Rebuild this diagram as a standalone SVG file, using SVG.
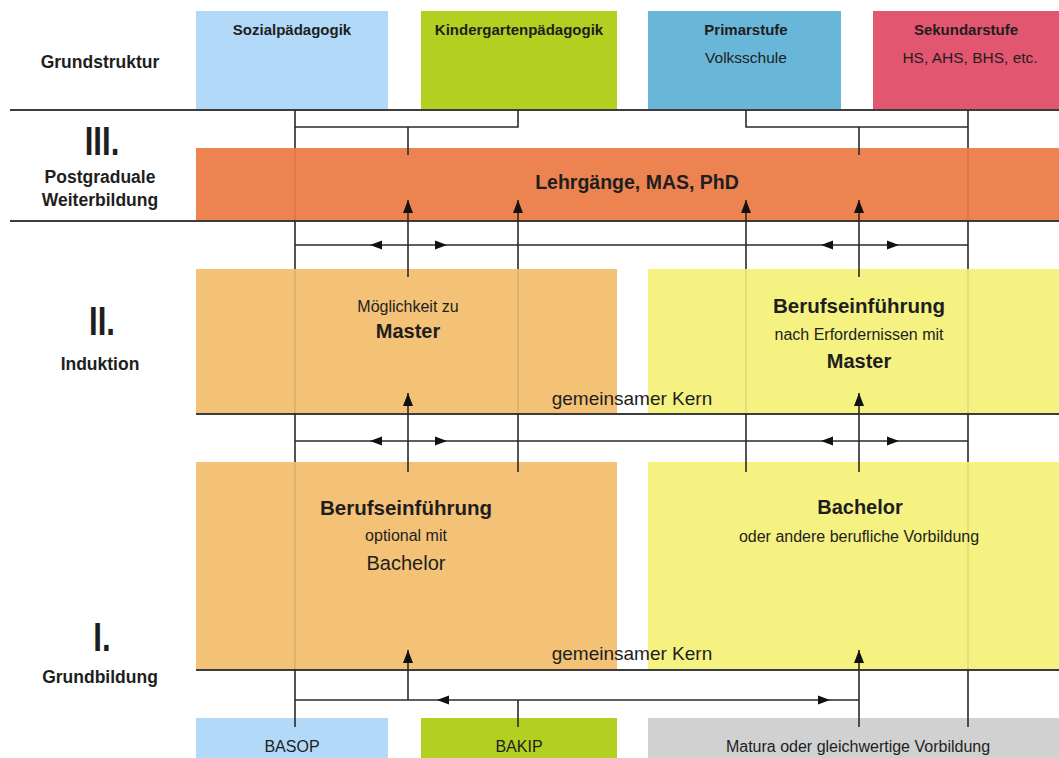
<svg xmlns="http://www.w3.org/2000/svg" width="1059" height="758" viewBox="0 0 1059 758">
  <style>
    text { font-family: "Liberation Sans", Arial, sans-serif; fill: #1e1e1e; text-anchor: middle; }
    .b { font-weight: bold; }
    .hd { font-size: 15px; font-weight: bold; }
    .sub { font-size: 15.5px; }
    .lbl { font-size: 17.5px; font-weight: bold; }
    .num { font-size: 40px; font-weight: bold; }
    .big { font-size: 20.5px; font-weight: bold; }
    .mid { font-size: 16px; }
    .core { font-size: 19px; }
    .rule { stroke: #3c3c3c; stroke-width: 2; fill: none; }
    .ln { stroke: #2a2a2a; stroke-width: 1.6; fill: none; }
    .faint { stroke: #000; stroke-opacity: 0.13; stroke-width: 1.2; fill: none; }
    .up { marker-end: url(#arr); }
  </style>
  <defs>
    <marker id="arr" markerUnits="userSpaceOnUse" markerWidth="14" markerHeight="10" refX="13" refY="5" orient="auto">
      <path d="M0,0 L13,5 L0,10 Z" fill="#111"/>
    </marker>
    <!-- arrowhead on a running line, tip at origin, pointing right -->
    <path id="head" d="M0,0 L-12,-4.5 L-12,4.5 Z" fill="#111"/>
  </defs>

  <rect width="1059" height="758" fill="#ffffff"/>

  <!-- header: school levels -->
  <g id="sozialpaedagogik">
    <rect x="196" y="11" width="192" height="99" fill="#b3d9f9"/>
    <text class="hd" x="292" y="35">Sozialpädagogik</text>
  </g>
  <g id="kindergartenpaedagogik">
    <rect x="421" y="11" width="196" height="99" fill="#b3d021"/>
    <text class="hd" x="519" y="35">Kindergartenpädagogik</text>
  </g>
  <g id="primarstufe">
    <rect x="648" y="11" width="193" height="99" fill="#68b6d8"/>
    <text class="hd" x="746" y="35">Primarstufe</text>
    <text class="sub" x="746" y="63">Volksschule</text>
  </g>
  <g id="sekundarstufe">
    <rect x="873" y="11" width="186" height="99" fill="#e35670"/>
    <text class="hd" x="966" y="35">Sekundarstufe</text>
    <text class="sub" x="970" y="63">HS, AHS, BHS, etc.</text>
  </g>

  <!-- left column labels -->
  <g id="labels">
    <text class="lbl" x="100" y="68">Grundstruktur</text>
    <text class="num" transform="translate(102,155) scale(0.78,1)">III.</text>
    <text class="lbl" x="100" y="183">Postgraduale</text>
    <text class="lbl" x="100" y="206">Weiterbildung</text>
    <text class="num" transform="translate(102,335) scale(0.78,1)">II.</text>
    <text class="lbl" x="100" y="370">Induktion</text>
    <text class="num" transform="translate(102,651) scale(0.78,1)">I.</text>
    <text class="lbl" x="100" y="683">Grundbildung</text>
  </g>

  <!-- III. postgraduate -->
  <g id="postgraduale">
    <rect x="196" y="148" width="863" height="73" fill="#ec8351"/>
    <text class="b" style="font-size:19.5px" x="637" y="189">Lehrgänge, MAS, PhD</text>
  </g>

  <!-- II. induction -->
  <g id="induktion-links">
    <rect x="196" y="269" width="421" height="145" fill="#f3c276"/>
    <text class="mid" x="408" y="312">Möglichkeit zu</text>
    <text class="b" style="font-size:20px" x="408" y="338">Master</text>
  </g>
  <g id="induktion-rechts">
    <rect x="648" y="269" width="411" height="145" fill="#f5f282"/>
    <text class="big" x="859" y="313">Berufseinführung</text>
    <text class="mid" x="859" y="340">nach Erfordernissen mit</text>
    <text class="b" style="font-size:20px" x="859" y="368">Master</text>
  </g>
  <text id="kern-2" class="core" x="632" y="405">gemeinsamer Kern</text>

  <!-- I. basic education -->
  <g id="grundbildung-links">
    <rect x="196" y="462" width="421" height="208" fill="#f3c276"/>
    <text class="big" x="406" y="515">Berufseinführung</text>
    <text class="mid" x="406" y="541">optional mit</text>
    <text style="font-size:20px" x="406" y="570">Bachelor</text>
  </g>
  <g id="grundbildung-rechts">
    <rect x="648" y="462" width="411" height="208" fill="#f5f282"/>
    <text class="b" style="font-size:20px" x="860" y="514">Bachelor</text>
    <text class="mid" x="859" y="542">oder andere berufliche Vorbildung</text>
  </g>
  <text id="kern-1" class="core" x="632" y="660">gemeinsamer Kern</text>

  <!-- entry qualifications -->
  <g id="basop">
    <rect x="196" y="718" width="192" height="40" fill="#b3d9f9"/>
    <text class="mid" x="292" y="752">BASOP</text>
  </g>
  <g id="bakip">
    <rect x="421" y="718" width="196" height="40" fill="#b3d021"/>
    <text class="mid" x="519" y="752">BAKIP</text>
  </g>
  <g id="matura">
    <rect x="648" y="718" width="411" height="40" fill="#d1d1d1"/>
    <text class="mid" x="858" y="752">Matura oder gleichwertige Vorbildung</text>
  </g>

  <!-- section rules -->
  <g id="rules">
    <path class="rule" d="M10,110 H1059"/>
    <path class="rule" d="M10,221 H1059"/>
    <path class="rule" d="M196,414 H1059"/>
    <path class="rule" d="M196,670 H1059"/>
  </g>

  <!-- connectors -->
  <g id="connectors">
    <!-- brackets under the header -->
    <path class="ln" d="M295,110 V127 H518 V110"/>
    <path class="ln" d="M408,127 V155"/>
    <path class="ln" d="M746,110 V127 H968"/>
    <path class="ln" d="M859,127 V155"/>

    <!-- outer verticals, faint where they cross the coloured bands -->
    <path class="ln" d="M295,127 V148 M295,221 V269 M295,414 V462 M295,670 V727"/>
    <path class="faint" d="M295,148 V221 M295,269 V414 M295,462 V670"/>
    <path class="ln" d="M968,110 V148 M968,221 V269 M968,414 V462 M968,670 V727"/>
    <path class="faint" d="M968,148 V221 M968,269 V414 M968,462 V670"/>

    <!-- inner verticals rising into the postgraduate band -->
    <path class="ln" d="M518,472 V414"/>
    <path class="faint" d="M518,414 V269"/>
    <path class="ln up" d="M518,269 V200"/>
    <path class="ln" d="M746,472 V414"/>
    <path class="faint" d="M746,414 V269"/>
    <path class="ln up" d="M746,269 V200"/>
    <path class="ln up" d="M408,277 V200"/>
    <path class="ln up" d="M859,277 V200"/>

    <!-- arrows into the induction band -->
    <path class="ln up" d="M408,472 V393"/>
    <path class="ln up" d="M859,472 V393"/>

    <!-- cross-links between the columns -->
    <path class="ln" d="M295,245 H968"/>
    <use href="#head" transform="translate(370,245) rotate(180)"/>
    <use href="#head" transform="translate(447,245)"/>
    <use href="#head" transform="translate(821,245) rotate(180)"/>
    <use href="#head" transform="translate(899,245)"/>

    <path class="ln" d="M295,441 H968"/>
    <use href="#head" transform="translate(370,441) rotate(180)"/>
    <use href="#head" transform="translate(447,441)"/>
    <use href="#head" transform="translate(821,441) rotate(180)"/>
    <use href="#head" transform="translate(899,441)"/>

    <!-- entry routes into basic education -->
    <path class="ln" d="M295,700 H859"/>
    <use href="#head" transform="translate(437,700) rotate(180)"/>
    <use href="#head" transform="translate(830,700)"/>
    <path class="ln up" d="M408,700 V650"/>
    <path class="ln" d="M518,700 V727"/>
    <path class="ln up" d="M859,727 V650"/>
  </g>
</svg>
